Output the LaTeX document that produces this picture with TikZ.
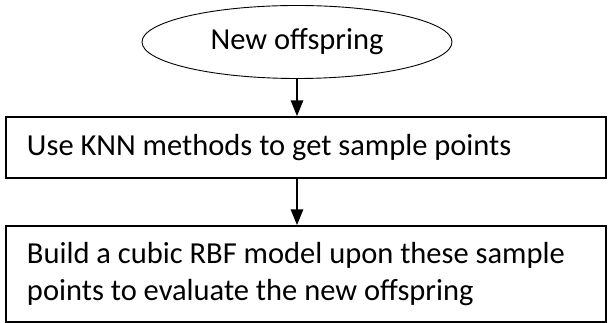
\documentclass[tikz,border=0pt]{standalone}
\usepackage{fontspec}
\setmainfont{Carlito}
\usetikzlibrary{shapes.geometric,arrows.meta}
\begin{document}
\begin{tikzpicture}[x=1pt,y=1pt,
  stepbox/.style={draw, line width=1.3pt, rectangle, minimum width=600pt,
    inner xsep=21pt, inner ysep=0pt, text width=558pt, align=flush left,
    font=\fontsize{30.5}{37}\selectfont},
  startshape/.style={draw, line width=0.9pt, ellipse, minimum width=310pt,
    minimum height=73pt, inner sep=0pt, font=\fontsize{30.5}{35}\selectfont},
  flow/.style={line width=2.8pt, -{Triangle[width=12pt,length=16pt]}}]
  \useasboundingbox (0,0) rectangle (608,323);
  \node[startshape] (start) at (297,281) {New offspring};
  \node[stepbox, minimum height=61pt] (knn) at (306,175.5)
    {\mbox{Use KNN methods to get sample points}};
  \node[stepbox, minimum height=96pt] (rbf) at (306,49)
    {\mbox{Build a cubic RBF model upon these sample}\\
     \mbox{points to evaluate the new offspring}};
  \draw[flow] (start.south) -- (start.south |- knn.north);
  \draw[flow] (start.south |- knn.south) -- (start.south |- rbf.north);
\end{tikzpicture}
\end{document}
